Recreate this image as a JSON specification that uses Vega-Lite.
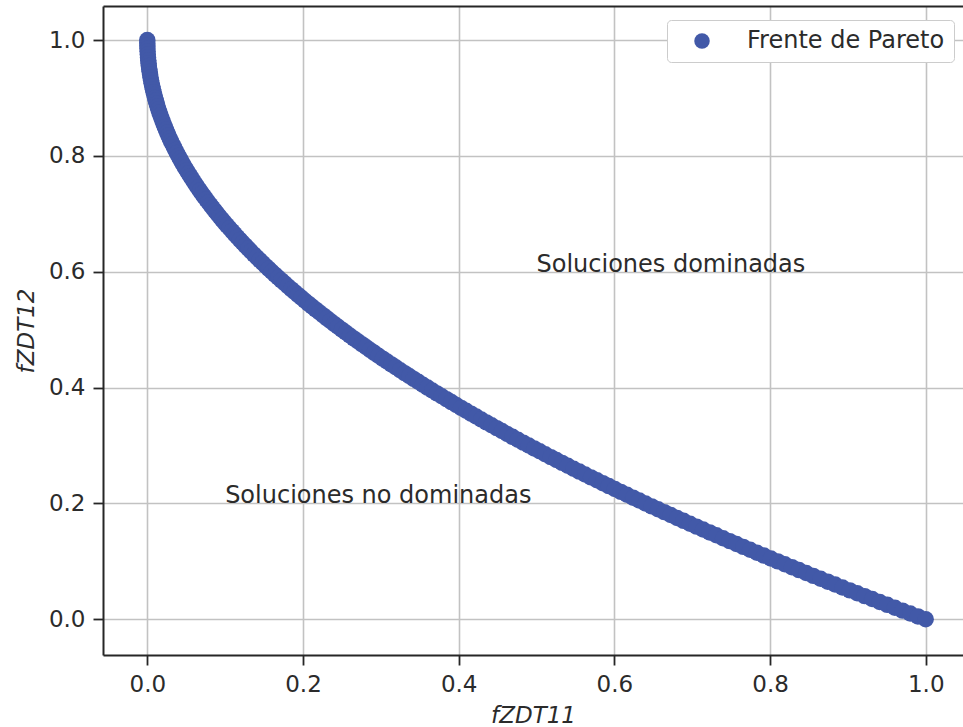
{
  "$schema": "https://vega.github.io/schema/vega-lite/v6.json",
  "width": 860,
  "height": 649,
  "autosize": {"type": "none"},
  "padding": {"left": 103, "top": 6, "right": 0, "bottom": 72},
  "background": "white",
  "config": {
    "view": {"stroke": null},
    "font": "DejaVu Sans",
    "axis": {
      "domainColor": "#262626",
      "domainWidth": 2,
      "tickColor": "#262626",
      "tickWidth": 1.8,
      "tickSize": 10,
      "labelFont": "DejaVu Sans",
      "labelFontSize": 23,
      "labelColor": "#2b2b2b",
      "titleFont": "DejaVu Sans",
      "titleFontSize": 23,
      "titleFontStyle": "italic",
      "titleFontWeight": "normal",
      "titleColor": "#2b2b2b",
      "gridColor": "#c2c2c2",
      "gridWidth": 1.6
    }
  },
  "datasets": {
    "pareto": [
      {"f1": 0, "f2": 1}, {"f1": 0.000025, "f2": 0.995}, {"f1": 0.0001, "f2": 0.99}, {"f1": 0.000225, "f2": 0.985}, {"f1": 0.0004, "f2": 0.98},
      {"f1": 0.000625, "f2": 0.975}, {"f1": 0.0009, "f2": 0.97}, {"f1": 0.001225, "f2": 0.965}, {"f1": 0.0016, "f2": 0.96}, {"f1": 0.002025, "f2": 0.955},
      {"f1": 0.0025, "f2": 0.95}, {"f1": 0.003025, "f2": 0.945}, {"f1": 0.0036, "f2": 0.94}, {"f1": 0.004225, "f2": 0.935}, {"f1": 0.0049, "f2": 0.93},
      {"f1": 0.005625, "f2": 0.925}, {"f1": 0.0064, "f2": 0.92}, {"f1": 0.007225, "f2": 0.915}, {"f1": 0.0081, "f2": 0.91}, {"f1": 0.009025, "f2": 0.905},
      {"f1": 0.01, "f2": 0.9}, {"f1": 0.011025, "f2": 0.895}, {"f1": 0.0121, "f2": 0.89}, {"f1": 0.013225, "f2": 0.885}, {"f1": 0.0144, "f2": 0.88},
      {"f1": 0.015625, "f2": 0.875}, {"f1": 0.0169, "f2": 0.87}, {"f1": 0.018225, "f2": 0.865}, {"f1": 0.0196, "f2": 0.86}, {"f1": 0.021025, "f2": 0.855},
      {"f1": 0.0225, "f2": 0.85}, {"f1": 0.024025, "f2": 0.845}, {"f1": 0.0256, "f2": 0.84}, {"f1": 0.027225, "f2": 0.835}, {"f1": 0.0289, "f2": 0.83},
      {"f1": 0.030625, "f2": 0.825}, {"f1": 0.0324, "f2": 0.82}, {"f1": 0.034225, "f2": 0.815}, {"f1": 0.0361, "f2": 0.81}, {"f1": 0.038025, "f2": 0.805},
      {"f1": 0.04, "f2": 0.8}, {"f1": 0.042025, "f2": 0.795}, {"f1": 0.0441, "f2": 0.79}, {"f1": 0.046225, "f2": 0.785}, {"f1": 0.0484, "f2": 0.78},
      {"f1": 0.050625, "f2": 0.775}, {"f1": 0.0529, "f2": 0.77}, {"f1": 0.055225, "f2": 0.765}, {"f1": 0.0576, "f2": 0.76}, {"f1": 0.060025, "f2": 0.755},
      {"f1": 0.0625, "f2": 0.75}, {"f1": 0.065025, "f2": 0.745}, {"f1": 0.0676, "f2": 0.74}, {"f1": 0.070225, "f2": 0.735}, {"f1": 0.0729, "f2": 0.73},
      {"f1": 0.075625, "f2": 0.725}, {"f1": 0.0784, "f2": 0.72}, {"f1": 0.081225, "f2": 0.715}, {"f1": 0.0841, "f2": 0.71}, {"f1": 0.087025, "f2": 0.705},
      {"f1": 0.09, "f2": 0.7}, {"f1": 0.093025, "f2": 0.695}, {"f1": 0.0961, "f2": 0.69}, {"f1": 0.099225, "f2": 0.685}, {"f1": 0.1024, "f2": 0.68},
      {"f1": 0.105625, "f2": 0.675}, {"f1": 0.1089, "f2": 0.67}, {"f1": 0.112225, "f2": 0.665}, {"f1": 0.1156, "f2": 0.66}, {"f1": 0.119025, "f2": 0.655},
      {"f1": 0.1225, "f2": 0.65}, {"f1": 0.126025, "f2": 0.645}, {"f1": 0.1296, "f2": 0.64}, {"f1": 0.133225, "f2": 0.635}, {"f1": 0.1369, "f2": 0.63},
      {"f1": 0.140625, "f2": 0.625}, {"f1": 0.1444, "f2": 0.62}, {"f1": 0.148225, "f2": 0.615}, {"f1": 0.1521, "f2": 0.61}, {"f1": 0.156025, "f2": 0.605},
      {"f1": 0.16, "f2": 0.6}, {"f1": 0.164025, "f2": 0.595}, {"f1": 0.1681, "f2": 0.59}, {"f1": 0.172225, "f2": 0.585}, {"f1": 0.1764, "f2": 0.58},
      {"f1": 0.180625, "f2": 0.575}, {"f1": 0.1849, "f2": 0.57}, {"f1": 0.189225, "f2": 0.565}, {"f1": 0.1936, "f2": 0.56}, {"f1": 0.198025, "f2": 0.555},
      {"f1": 0.2025, "f2": 0.55}, {"f1": 0.207025, "f2": 0.545}, {"f1": 0.2116, "f2": 0.54}, {"f1": 0.216225, "f2": 0.535}, {"f1": 0.2209, "f2": 0.53},
      {"f1": 0.225625, "f2": 0.525}, {"f1": 0.2304, "f2": 0.52}, {"f1": 0.235225, "f2": 0.515}, {"f1": 0.2401, "f2": 0.51}, {"f1": 0.245025, "f2": 0.505},
      {"f1": 0.25, "f2": 0.5}, {"f1": 0.255, "f2": 0.495}, {"f1": 0.2601, "f2": 0.49}, {"f1": 0.2652, "f2": 0.485}, {"f1": 0.2704, "f2": 0.48},
      {"f1": 0.2756, "f2": 0.475}, {"f1": 0.2809, "f2": 0.47}, {"f1": 0.2862, "f2": 0.465}, {"f1": 0.2916, "f2": 0.46}, {"f1": 0.297, "f2": 0.455},
      {"f1": 0.3025, "f2": 0.45}, {"f1": 0.308, "f2": 0.445}, {"f1": 0.3136, "f2": 0.44}, {"f1": 0.3192, "f2": 0.435}, {"f1": 0.3249, "f2": 0.43},
      {"f1": 0.3306, "f2": 0.425}, {"f1": 0.3364, "f2": 0.42}, {"f1": 0.3422, "f2": 0.415}, {"f1": 0.3481, "f2": 0.41}, {"f1": 0.354, "f2": 0.405},
      {"f1": 0.36, "f2": 0.4}, {"f1": 0.366, "f2": 0.395}, {"f1": 0.3721, "f2": 0.39}, {"f1": 0.3782, "f2": 0.385}, {"f1": 0.3844, "f2": 0.38},
      {"f1": 0.3906, "f2": 0.375}, {"f1": 0.3969, "f2": 0.37}, {"f1": 0.4032, "f2": 0.365}, {"f1": 0.4096, "f2": 0.36}, {"f1": 0.416, "f2": 0.355},
      {"f1": 0.4225, "f2": 0.35}, {"f1": 0.429, "f2": 0.345}, {"f1": 0.4356, "f2": 0.34}, {"f1": 0.4422, "f2": 0.335}, {"f1": 0.4489, "f2": 0.33},
      {"f1": 0.4556, "f2": 0.325}, {"f1": 0.4624, "f2": 0.32}, {"f1": 0.4692, "f2": 0.315}, {"f1": 0.4761, "f2": 0.31}, {"f1": 0.483, "f2": 0.305},
      {"f1": 0.49, "f2": 0.3}, {"f1": 0.497, "f2": 0.295}, {"f1": 0.5041, "f2": 0.29}, {"f1": 0.5112, "f2": 0.285}, {"f1": 0.5184, "f2": 0.28},
      {"f1": 0.5256, "f2": 0.275}, {"f1": 0.5329, "f2": 0.27}, {"f1": 0.5402, "f2": 0.265}, {"f1": 0.5476, "f2": 0.26}, {"f1": 0.555, "f2": 0.255},
      {"f1": 0.5625, "f2": 0.25}, {"f1": 0.57, "f2": 0.245}, {"f1": 0.5776, "f2": 0.24}, {"f1": 0.5852, "f2": 0.235}, {"f1": 0.5929, "f2": 0.23},
      {"f1": 0.6006, "f2": 0.225}, {"f1": 0.6084, "f2": 0.22}, {"f1": 0.6162, "f2": 0.215}, {"f1": 0.6241, "f2": 0.21}, {"f1": 0.632, "f2": 0.205},
      {"f1": 0.64, "f2": 0.2}, {"f1": 0.648, "f2": 0.195}, {"f1": 0.6561, "f2": 0.19}, {"f1": 0.6642, "f2": 0.185}, {"f1": 0.6724, "f2": 0.18},
      {"f1": 0.6806, "f2": 0.175}, {"f1": 0.6889, "f2": 0.17}, {"f1": 0.6972, "f2": 0.165}, {"f1": 0.7056, "f2": 0.16}, {"f1": 0.714, "f2": 0.155},
      {"f1": 0.7225, "f2": 0.15}, {"f1": 0.731, "f2": 0.145}, {"f1": 0.7396, "f2": 0.14}, {"f1": 0.7482, "f2": 0.135}, {"f1": 0.7569, "f2": 0.13},
      {"f1": 0.7656, "f2": 0.125}, {"f1": 0.7744, "f2": 0.12}, {"f1": 0.7832, "f2": 0.115}, {"f1": 0.7921, "f2": 0.11}, {"f1": 0.801, "f2": 0.105},
      {"f1": 0.81, "f2": 0.1}, {"f1": 0.819, "f2": 0.095}, {"f1": 0.8281, "f2": 0.09}, {"f1": 0.8372, "f2": 0.085}, {"f1": 0.8464, "f2": 0.08},
      {"f1": 0.8556, "f2": 0.075}, {"f1": 0.8649, "f2": 0.07}, {"f1": 0.8742, "f2": 0.065}, {"f1": 0.8836, "f2": 0.06}, {"f1": 0.893, "f2": 0.055},
      {"f1": 0.9025, "f2": 0.05}, {"f1": 0.912, "f2": 0.045}, {"f1": 0.9216, "f2": 0.04}, {"f1": 0.9312, "f2": 0.035}, {"f1": 0.9409, "f2": 0.03},
      {"f1": 0.9506, "f2": 0.025}, {"f1": 0.9604, "f2": 0.02}, {"f1": 0.9702, "f2": 0.015}, {"f1": 0.9801, "f2": 0.01}, {"f1": 0.99, "f2": 0.005},
      {"f1": 1, "f2": 0}
    ],
    "notes": [
      {"f1": 0.5, "f2": 0.6, "texto": "Soluciones dominadas"},
      {"f1": 0.1, "f2": 0.2, "texto": "Soluciones no dominadas"}
    ]
  },
  "layer": [
    {
      "data": {"name": "pareto"},
      "mark": {"type": "circle", "opacity": 1, "size": 270},
      "encoding": {
        "x": {
          "field": "f1", "type": "quantitative",
          "scale": {"domain": [-0.0569, 1.0479], "nice": false, "zero": false},
          "axis": {"title": "fZDT11", "values": [0, 0.2, 0.4, 0.6, 0.8, 1], "format": ".1f", "grid": true, "labelPadding": 8, "titlePadding": 8}
        },
        "y": {
          "field": "f2", "type": "quantitative",
          "scale": {"domain": [-0.0616, 1.0587], "nice": false, "zero": false},
          "axis": {"title": "fZDT12", "values": [0, 0.2, 0.4, 0.6, 0.8, 1], "format": ".1f", "grid": true, "labelPadding": 8, "titlePadding": 10}
        },
        "color": {
          "datum": "Frente de Pareto",
          "type": "nominal",
          "scale": {"range": ["#4259a8"]},
          "legend": {
            "title": null,
            "orient": "none",
            "legendX": 564,
            "legendY": 14,
            "padding": 9,
            "fillColor": "white",
            "strokeColor": "#cccccc",
            "cornerRadius": 4,
            "symbolSize": 240,
            "symbolOffset": 14,
            "labelOffset": 33,
            "labelLimit": 400,
            "labelFont": "DejaVu Sans",
            "labelFontSize": 24,
            "labelColor": "#2b2b2b",
            "symbolOpacity": 1
          }
        }
      }
    },
    {
      "data": {"name": "notes"},
      "mark": {"type": "text", "align": "left", "baseline": "alphabetic", "fontSize": 24, "font": "DejaVu Sans", "color": "#2b2b2b"},
      "encoding": {
        "x": {"field": "f1", "type": "quantitative", "axis": null},
        "y": {"field": "f2", "type": "quantitative"},
        "text": {"field": "texto"}
      }
    },
    {
      "data": {"values": [{}]},
      "mark": {"type": "rule", "opacity": 0},
      "encoding": {
        "x2": {"datum": 0},
        "x": {"datum": 0, "type": "quantitative", "axis": {"orient": "top", "title": null, "labels": false, "ticks": false, "grid": false, "domain": true}}
      }
    }
  ],
  "resolve": {"axis": {"x": "independent"}}
}
